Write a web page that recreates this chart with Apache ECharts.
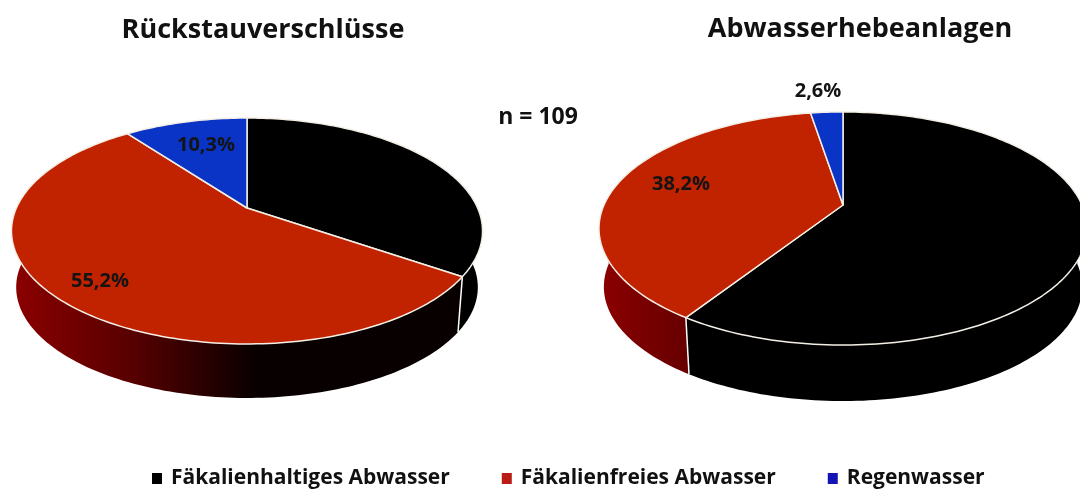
<!DOCTYPE html>
<html>
<head>
<meta charset="utf-8">
<style>html,body{margin:0;padding:0;background:#fff}#chart{width:1080px;height:489px}</style>
<script src="https://cdn.jsdelivr.net/npm/echarts@6/dist/echarts.min.js"></script>
</head>
<body>
<div id="chart"></div>
<script>
const categories = ['Fäkalienhaltiges Abwasser', 'Fäkalienfreies Abwasser', 'Regenwasser'];
const pieTitles = ['Rückstauverschlüsse', 'Abwasserhebeanlagen'];
const rueckstauValues = [34.5, 55.2, 10.3];
const hebeanlagenValues = [59.2, 38.2, 2.6];
const sampleNote = 'n = 109';
const pieValues = [rueckstauValues, hebeanlagenValues];

const colors = ['#000000', '#c12200', '#0a34c6'];
const legendColors = ['#000000', '#b81c14', '#1414b4'];
const fontFamily = '"Open Sans", sans-serif';

// perspective of the tilted discs: apex, radius, depth
const pies = [
  { cx: 247, cy: 208, c: 230.6, a: 108.3, p: -0.2035, depth: 56.7, shrink: 0.98, labels: [null, [100, 281], [206, 145]] },
  { cx: 843, cy: 205, c: 239, a: 111.8, p: -0.2017, depth: 58.8, shrink: 0.98, labels: [null, [681, 184], [818, 91]] }
];

function project(pie, pct, scale, dy) {
  const t = pct / 100 * Math.PI * 2;
  const u = Math.sin(t), v = -Math.cos(t);
  const d = 1 + pie.p * v;
  return [pie.cx + scale * pie.c * u / d, pie.cy + dy + scale * pie.a * v / d];
}

function arc(pie, from, to, scale, dy) {
  const pts = [];
  const n = Math.max(2, Math.ceil((to - from) * 3));
  for (let i = 0; i <= n; i++) {
    pts.push(project(pie, from + (to - from) * i / n, scale, dy));
  }
  return pts;
}

function renderSlice(params, api) {
  const pieIndex = api.value(0);
  const catIndex = params.seriesIndex;
  const pie = pies[pieIndex];
  const values = pieValues[pieIndex];
  let start = 0;
  for (let i = 0; i < catIndex; i++) start += values[i];
  const end = start + api.value(1);
  const children = [];

  // side wall, only the front half is visible
  const from = Math.max(start, 25), to = Math.min(end, 75);
  if (to > from) {
    const top = arc(pie, from, to, 1, 0);
    const bottom = arc(pie, from, to, pie.shrink, pie.depth).reverse();
    const left = pie.cx - pie.c * 1.02;
    children.push({
      type: 'polygon',
      z2: 1,
      shape: { points: top.concat(bottom) },
      style: {
        fill: catIndex === 1
          ? new echarts.graphic.LinearGradient(left, 0, pie.cx + 10, 0, [
              { offset: 0, color: '#8c0000' },
              { offset: 0.5, color: '#560000' },
              { offset: 1, color: '#080000' }
            ], true)
          : colors[catIndex]
      }
    });
    if (start > 25 && start < 75) {
      const a = project(pie, start, 1, 0), b = project(pie, start, pie.shrink, pie.depth);
      children.push({
        type: 'line',
        z2: 2,
        shape: { x1: a[0], y1: a[1], x2: b[0], y2: b[1] },
        style: { stroke: '#ffffff', lineWidth: 1.5 }
      });
    }
  }

  // top face
  children.push({
    type: 'polygon',
    z2: 3,
    shape: { points: [[pie.cx, pie.cy]].concat(arc(pie, start, end, 1, 0)) },
    style: { fill: colors[catIndex], stroke: '#f4efe6', lineWidth: 1.5, lineJoin: 'round' }
  });

  const at = pie.labels[catIndex];
  if (at) {
    children.push({
      type: 'text',
      z2: 4,
      x: at[0],
      y: at[1],
      style: {
        text: api.value(1).toFixed(1).replace('.', ',') + '%',
        fill: '#141414',
        font: '700 20px ' + fontFamily,
        align: 'center',
        verticalAlign: 'middle'
      }
    });
  }
  return { type: 'group', children };
}

const series = categories.map((name, i) => ({
  name,
  type: 'custom',
  coordinateSystem: 'none',
  silent: true,
  clip: false,
  itemStyle: { color: legendColors[i] },
  renderItem: renderSlice,
  data: pieValues.map((vals, p) => [p, vals[i]])
}));

const titleStyle = { fontFamily, fontSize: 27, fontWeight: 700, color: '#111' };
const chart = echarts.init(document.getElementById('chart'), null, { renderer: 'canvas' });
chart.setOption({
  animation: false,
  backgroundColor: '#ffffff',
  title: [
    { text: pieTitles[0], left: 258, top: 12, textAlign: 'center', textStyle: titleStyle },
    { text: pieTitles[1], left: 855, top: 11, textAlign: 'center', textStyle: titleStyle },
    { text: sampleNote, left: 533, top: 101, textAlign: 'center', textStyle: { fontFamily, fontSize: 23, fontWeight: 700, color: '#111' } }
  ],
  legend: {
    left: 147,
    top: 463,
    icon: 'rect',
    itemWidth: 10,
    itemHeight: 11,
    itemGap: 52,
    selectedMode: false,
    textStyle: { fontFamily, fontSize: 21, fontWeight: 700, color: '#111', padding: [0, 0, 0, 4] },
    data: categories
  },
  series
});
</script>
</body>
</html>
